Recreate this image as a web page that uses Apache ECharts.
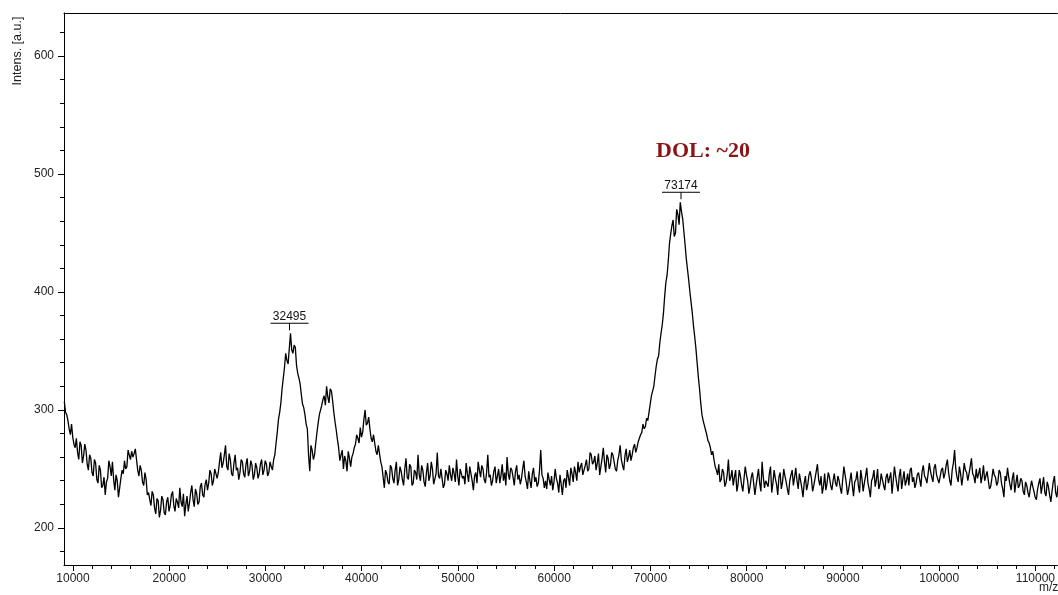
<!DOCTYPE html>
<html>
<head>
<meta charset="utf-8">
<script src="https://cdn.jsdelivr.net/npm/echarts@6/dist/echarts.min.js"></script>
<style>
html,body{margin:0;padding:0;background:#fff;}
#c{width:1058px;height:595px;}
</style>
</head>
<body>
<div id="c"></div>
<script>
// m/z sampling of the spectrum
const mzStart = 9100;
const mzStep = 125;
// intensity values (a.u.), one per m/z step
const intensity = [
  307, 298, 296, 291, 284, 279, 288, 277, 271, 268, 276, 264, 258, 273, 270, 255, 261, 271, 266, 254,
  249, 262, 259, 247, 244, 258, 255, 241, 238, 253, 249, 234, 236, 243, 228, 239, 242, 257, 252, 244,
  256, 241, 232, 245, 240, 226, 227, 242, 249, 246, 257, 250, 252, 266, 262, 258, 265, 260, 263, 267,
  258, 249, 244, 253, 249, 239, 236, 247, 241, 228, 230, 224, 219, 231, 228, 217, 212, 225, 223, 209,
  215, 227, 224, 213, 211, 222, 226, 214, 219, 228, 231, 219, 214, 225, 222, 217, 234, 222, 218, 229,
  210, 220, 227, 214, 221, 230, 236, 224, 218, 233, 229, 220, 222, 235, 238, 228, 226, 237, 241, 232,
  238, 249, 246, 236, 240, 250, 251, 242, 247, 256, 264, 251, 255, 262, 270, 252, 249, 263, 258, 246,
  244, 255, 262, 249, 251, 241, 247, 258, 256, 246, 243, 254, 259, 244, 248, 257, 253, 241, 245, 255,
  251, 242, 246, 254, 258, 245, 249, 257, 254, 244, 247, 256, 252, 249, 258, 262, 272, 281, 292, 298,
  306, 318, 327, 336, 348, 342, 339, 352, 365, 351, 348, 355, 353, 338, 331, 327, 322, 313, 305, 302,
  296, 288, 284, 262, 248, 270, 266, 258, 262, 272, 281, 289, 296, 300, 304, 309, 312, 304, 320, 311,
  306, 318, 316, 308, 298, 290, 283, 275, 268, 257, 262, 266, 250, 261, 257, 248, 265, 259, 252, 260,
  263, 268, 271, 279, 276, 272, 285, 277, 281, 292, 300, 287, 289, 294, 284, 276, 273, 279, 272, 265,
  262, 270, 263, 256, 252, 243, 234, 249, 246, 239, 237, 253, 251, 242, 238, 249, 256, 236, 241, 252,
  248, 241, 236, 250, 259, 243, 241, 254, 252, 236, 238, 249, 247, 241, 262, 245, 240, 253, 249, 239,
  235, 247, 255, 240, 244, 256, 250, 237, 238, 246, 264, 244, 242, 250, 251, 234, 237, 249, 246, 240,
  253, 245, 240, 251, 246, 239, 258, 244, 236, 250, 249, 242, 244, 237, 255, 246, 239, 252, 251, 240,
  232, 244, 247, 238, 256, 249, 243, 253, 250, 241, 238, 247, 262, 243, 245, 236, 240, 248, 252, 238,
  244, 250, 238, 245, 254, 240, 247, 236, 260, 246, 241, 251, 249, 243, 236, 248, 253, 241, 245, 237,
  242, 250, 257, 244, 239, 233, 248, 240, 234, 246, 251, 239, 243, 235, 238, 249, 266, 245, 242, 234,
  240, 233, 247, 241, 236, 244, 232, 239, 250, 242, 238, 230, 245, 237, 228, 240, 242, 234, 249, 243,
  236, 251, 246, 239, 252, 247, 240, 256, 247, 252, 255, 245, 244, 253, 258, 248, 250, 264, 262, 254,
  256, 261, 249, 255, 263, 245, 252, 259, 268, 256, 247, 262, 259, 250, 254, 264, 262, 256, 250, 248,
  257, 262, 270, 258, 253, 249, 261, 267, 256, 260, 266, 257, 262, 268, 271, 264, 268, 273, 276, 279,
  281, 288, 284, 286, 293, 291, 298, 305, 312, 316, 320, 329, 337, 343, 346, 357, 365, 372, 382, 396,
  408, 414, 426, 441, 449, 456, 461, 447, 450, 470, 466, 457, 476, 468, 462, 451, 440, 428, 419, 410,
  400, 391, 382, 371, 362, 352, 340, 328, 318, 306, 296, 291, 287, 283, 279, 274, 272, 268, 262, 265,
  258, 252, 249, 245, 254, 239, 241, 250, 247, 235, 238, 245, 258, 240, 243, 249, 236, 243, 249, 231,
  237, 249, 244, 236, 231, 242, 252, 245, 240, 229, 235, 243, 247, 238, 228, 236, 243, 250, 238, 231,
  256, 243, 234, 240, 241, 235, 246, 252, 230, 238, 249, 242, 237, 228, 243, 247, 233, 239, 250, 244,
  239, 233, 228, 240, 245, 249, 236, 243, 251, 240, 233, 246, 240, 234, 226, 238, 244, 232, 237, 245,
  248, 242, 231, 236, 242, 248, 254, 241, 236, 244, 229, 235, 246, 232, 238, 247, 243, 236, 232, 240,
  246, 238, 235, 244, 240, 234, 229, 241, 252, 245, 238, 228, 233, 240, 247, 236, 227, 239, 241, 248,
  236, 230, 249, 242, 231, 238, 244, 251, 238, 233, 226, 240, 243, 249, 235, 241, 250, 233, 237, 246,
  241, 236, 232, 243, 246, 238, 239, 247, 229, 240, 252, 244, 237, 231, 244, 250, 233, 241, 248, 236,
  240, 246, 236, 249, 251, 239, 243, 234, 238, 245, 247, 241, 235, 248, 253, 244, 242, 238, 246, 255,
  248, 243, 239, 251, 254, 245, 244, 238, 237, 249, 251, 242, 246, 253, 258, 247, 240, 236, 249, 255,
  266, 250, 243, 239, 252, 246, 236, 244, 255, 249, 247, 240, 241, 252, 259, 246, 244, 238, 250, 242,
  246, 251, 238, 244, 253, 240, 241, 248, 248, 233, 235, 242, 250, 245, 243, 236, 239, 249, 247, 238,
  233, 226, 244, 240, 251, 243, 237, 232, 242, 247, 230, 238, 245, 234, 236, 242, 240, 231, 228, 239,
  236, 230, 226, 234, 240, 235, 231, 226, 224, 233, 238, 242, 229, 236, 243, 230, 227, 239, 235, 228,
  222, 231, 239, 244, 230, 226, 236
];
// axis ticks
const xMajor = [10000, 20000, 30000, 40000, 50000, 60000, 70000, 80000, 90000, 100000, 110000];
const yMajor = [200, 300, 400, 500, 600];
const yMinor = [180, 220, 240, 260, 280, 320, 340, 360, 380, 420, 440, 460, 480, 520, 540, 560, 580, 620];
// peak annotations
const peakMz = [32495, 73174];
const peakText = ['32495', '73174'];
const annotation = 'DOL: ~20';

const xMinor = [];
for (let v = 12000; v <= 112000; v += 2000) { if (v % 10000 !== 0) xMinor.push(v); }

const seriesData = intensity.map((v, i) => [mzStart + i * mzStep, v]);

const chart = echarts.init(document.getElementById('c'), null, {renderer: 'canvas'});
const axisFont = {fontFamily: 'Liberation Sans, Arial, sans-serif', fontSize: 12, color: '#222'};
const X_MIN = 9066, X_MAX = 112280, Y_MIN = 168.6, Y_MAX = 636.4;

chart.setOption({
  animation: false,
  backgroundColor: '#fff',
  grid: {left: 64, right: 0, top: 13, bottom: 30, containLabel: false},
  xAxis: [
    {type: 'value', min: X_MIN, max: X_MAX, position: 'bottom',
     axisLine: {show: true, lineStyle: {color: '#000', width: 1}},
     axisTick: {show: true, length: 6, lineStyle: {color: '#000'}, customValues: xMajor},
     axisLabel: Object.assign({show: true, margin: 8, customValues: xMajor, formatter: v => String(v)}, axisFont),
     splitLine: {show: false}},
    {type: 'value', min: X_MIN, max: X_MAX, position: 'bottom',
     axisLine: {show: false},
     axisTick: {show: true, length: 4, lineStyle: {color: '#000'}, customValues: xMinor},
     axisLabel: {show: false}, splitLine: {show: false}},
    {type: 'value', min: X_MIN, max: X_MAX, position: 'top',
     axisLine: {show: true, lineStyle: {color: '#000', width: 1}},
     axisTick: {show: false}, axisLabel: {show: false}, splitLine: {show: false}}
  ],
  yAxis: [
    {type: 'value', min: Y_MIN, max: Y_MAX, position: 'left',
     axisLine: {show: true, lineStyle: {color: '#000', width: 1}},
     axisTick: {show: true, length: 6, lineStyle: {color: '#000'}, customValues: yMajor},
     axisLabel: Object.assign({show: true, margin: 10, customValues: yMajor, formatter: v => String(v)}, axisFont),
     splitLine: {show: false}},
    {type: 'value', min: Y_MIN, max: Y_MAX, position: 'left',
     axisLine: {show: false},
     axisTick: {show: true, length: 4, lineStyle: {color: '#000'}, customValues: yMinor},
     axisLabel: {show: false}, splitLine: {show: false}}
  ],
  series: [{
    type: 'line', xAxisIndex: 0, yAxisIndex: 0,
    data: seriesData, showSymbol: false, symbol: 'none', sampling: false,
    lineStyle: {color: '#000', width: 1.3}, silent: true
  }]
});

// annotations positioned through the chart's own scales
const graphics = [];
peakMz.forEach((mz, k) => {
  let best = -Infinity;
  seriesData.forEach(p => { if (Math.abs(p[0] - mz) <= 500 && p[1] > best) best = p[1]; });
  const top = chart.convertToPixel({xAxisIndex: 0, yAxisIndex: 0}, [mz, best]);
  const px = top[0], lineY = top[1] - 10;
  graphics.push({type: 'line', shape: {x1: px - 19, y1: lineY, x2: px + 19, y2: lineY}, style: {stroke: '#000', lineWidth: 1}});
  graphics.push({type: 'line', shape: {x1: px, y1: lineY, x2: px, y2: lineY + 7}, style: {stroke: '#000', lineWidth: 1}});
  graphics.push({type: 'text', x: px, y: lineY - 1, style: {text: peakText[k], align: 'center', verticalAlign: 'bottom', font: '12px "Liberation Sans", Arial, sans-serif', fill: '#111'}});
});
const p2 = chart.convertToPixel({xAxisIndex: 0, yAxisIndex: 0}, [peakMz[1], 476]);
graphics.push({type: 'text', x: p2[0] + 22, y: 151, style: {text: annotation, align: 'center', verticalAlign: 'middle', font: 'bold 22px "Liberation Serif", "Times New Roman", serif', fill: '#8B1414'}});
graphics.push({type: 'text', x: 18, y: 51, rotation: Math.PI / 2, style: {text: 'Intens. [a.u.]', align: 'center', verticalAlign: 'middle', font: '12.5px "Liberation Sans", Arial, sans-serif', fill: '#222'}});
graphics.push({type: 'text', x: 1039, y: 588, style: {text: 'm/z', align: 'left', verticalAlign: 'middle', font: '12px "Liberation Sans", Arial, sans-serif', fill: '#222'}});
chart.setOption({graphic: graphics});
</script>
</body>
</html>
